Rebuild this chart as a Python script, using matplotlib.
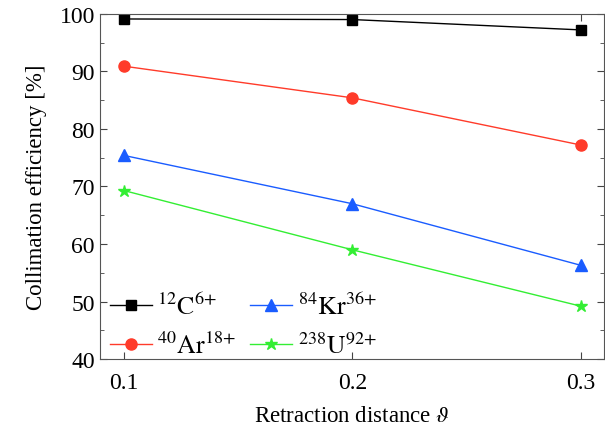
import matplotlib
matplotlib.use("Agg")
import matplotlib.pyplot as plt
from matplotlib.ticker import MultipleLocator

plt.rcParams['font.family'] = ['Liberation Serif', 'DejaVu Serif']
plt.rcParams['mathtext.fontset'] = 'stix'

x = [0.1, 0.2, 0.3]
carbon = [99.1, 99.0, 97.2]
argon = [90.9, 85.4, 77.2]
krypton = [75.4, 67.0, 56.3]
uranium = [69.3, 59.0, 49.2]

labels = [r'$^{12}\mathrm{C}^{6{+}}$', r'$^{40}\mathrm{Ar}^{18{+}}$',
          r'$^{84}\mathrm{Kr}^{36{+}}$', r'$^{238}\mathrm{U}^{92{+}}$']

fig = plt.figure(figsize=(6.05, 4.35), dpi=100)
ax = fig.add_axes([0.165, 0.172, 0.833, 0.794])

ax.plot(x, carbon, color='black', marker='s', markersize=7, lw=1, label=labels[0])
ax.plot(x, argon, color='#ff3b2a', marker='o', markersize=8, lw=1, label=labels[1])
ax.plot(x, krypton, color='#1a5cff', marker='^', markersize=8, lw=1, label=labels[2])
ax.plot(x, uranium, color='#33ee33', marker='*', markersize=9, lw=1, label=labels[3])

ax.set_xlim(0.0895, 0.310)
ax.set_ylim(40, 100)
ax.set_xticks(x)
ax.set_xticklabels(['0.1', '0.2', '0.3'])
ax.yaxis.set_minor_locator(MultipleLocator(5))
ax.tick_params(which='both', direction='in', top=True, right=True, labelsize=17,
               colors='#444444', labelcolor='black')
ax.tick_params(which='major', length=5)
ax.tick_params(which='minor', length=3)
ax.tick_params(axis='x', pad=9)
for s in ax.spines.values():
    s.set_color('#555555')

ax.set_xlabel(r'Retraction distance $\vartheta$', fontsize=16.5, labelpad=9)
ax.set_ylabel('Collimation efficiency [%]', fontsize=16.5, labelpad=9)

ax.legend(loc='lower left', bbox_to_anchor=(-0.006, -0.035), ncol=2, frameon=False,
          fontsize=18.5, handlelength=1.65, columnspacing=0.55, handletextpad=0.2,
          labelspacing=0.5, borderaxespad=0.1)

fig.savefig('out.png', dpi=100)
